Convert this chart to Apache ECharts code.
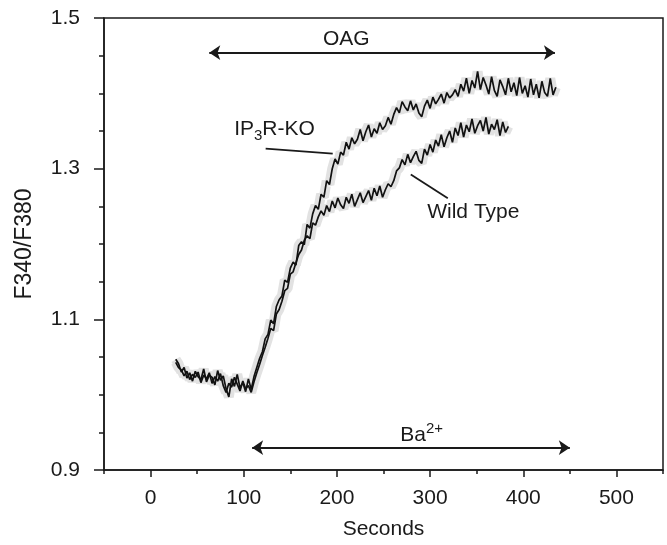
<!DOCTYPE html>
<html>
<head>
<meta charset="utf-8">
<script src="https://cdn.jsdelivr.net/npm/echarts@6/dist/echarts.min.js"></script>
<style>html,body{margin:0;padding:0;background:#fff}#c{width:667px;height:545px}</style>
</head>
<body>
<div id="c"></div>
<script>
// ---- data ----
const koTimes = [27,30,33,36,39,42,45,48,51,54,57,60,63,66,69,72,75,78,81,84,87,90,93,96,99,102,105,108,111,114,117,120,123,126,129,132,135,138,141,144,147,150,153,156,159,162,165,168,171,174,177,180,183,186,189,192,195,198,201,204,207,210,213,216,219,222,225,228,231,234,237,240,243,246,249,252,255,258,261,264,267,270,273,276,279,282,285,288,291,294,297,300,303,306,309,312,315,318,321,324,327,330,333,336,339,342,345,348,351,354,357,360,363,366,369,372,375,378,381,384,387,390,393,396,399,402,405,408,411,414,417,420,423,426,429,432,435];
const koValues = [1.047,1.041,1.030,1.036,1.022,1.029,1.018,1.031,1.024,1.020,1.034,1.017,1.026,1.023,1.013,1.032,1.019,1.025,1.008,0.997,1.021,1.011,1.027,1.009,1.016,1.004,1.021,1.007,1.024,1.036,1.048,1.057,1.074,1.080,1.099,1.094,1.117,1.126,1.131,1.152,1.149,1.168,1.176,1.172,1.198,1.203,1.199,1.226,1.221,1.240,1.251,1.246,1.266,1.262,1.284,1.279,1.300,1.313,1.306,1.322,1.318,1.335,1.326,1.341,1.333,1.339,1.352,1.337,1.349,1.358,1.342,1.353,1.347,1.361,1.352,1.357,1.368,1.359,1.372,1.381,1.374,1.389,1.382,1.377,1.390,1.378,1.386,1.374,1.369,1.383,1.391,1.380,1.395,1.386,1.392,1.399,1.387,1.401,1.394,1.398,1.405,1.396,1.412,1.403,1.420,1.400,1.417,1.407,1.429,1.405,1.421,1.411,1.399,1.422,1.404,1.396,1.418,1.409,1.398,1.420,1.402,1.414,1.397,1.421,1.400,1.410,1.395,1.419,1.398,1.412,1.394,1.416,1.401,1.396,1.420,1.398,1.408];
const wtTimes = [27,30,33,36,39,42,45,48,51,54,57,60,63,66,69,72,75,78,81,84,87,90,93,96,99,102,105,108,111,114,117,120,123,126,129,132,135,138,141,144,147,150,153,156,159,162,165,168,171,174,177,180,183,186,189,192,195,198,201,204,207,210,213,216,219,222,225,228,231,234,237,240,243,246,249,252,255,258,261,264,267,270,273,276,279,282,285,288,291,294,297,300,303,306,309,312,315,318,321,324,327,330,333,336,339,342,345,348,351,354,357,360,363,366,369,372,375,378,381,384];
const wtValues = [1.043,1.036,1.033,1.025,1.031,1.020,1.027,1.023,1.030,1.016,1.026,1.021,1.029,1.015,1.024,1.018,1.028,1.012,1.003,1.015,1.010,1.023,1.014,1.005,1.018,1.008,1.012,1.003,1.017,1.029,1.040,1.052,1.063,1.075,1.088,1.085,1.107,1.113,1.124,1.138,1.141,1.160,1.163,1.175,1.186,1.192,1.205,1.211,1.207,1.228,1.225,1.236,1.244,1.238,1.251,1.243,1.257,1.248,1.261,1.252,1.247,1.262,1.254,1.266,1.250,1.259,1.268,1.255,1.263,1.271,1.258,1.274,1.264,1.277,1.262,1.272,1.280,1.276,1.284,1.297,1.301,1.312,1.305,1.319,1.308,1.316,1.323,1.311,1.307,1.326,1.318,1.332,1.322,1.338,1.330,1.345,1.329,1.341,1.350,1.335,1.354,1.344,1.361,1.342,1.358,1.349,1.366,1.347,1.357,1.364,1.350,1.368,1.346,1.359,1.352,1.365,1.344,1.362,1.348,1.356];
const xTickLabels = [0,100,200,300,400,500];
const yTickLabels = [0.9,1.1,1.3,1.5];

const koData = koTimes.map((t,i)=>[t,koValues[i]]);
const wtData = wtTimes.map((t,i)=>[t,wtValues[i]]);

const FONT = "'Liberation Sans', Arial, Helvetica, sans-serif";
const INK = '#1a1a1a';

const chart = echarts.init(document.getElementById('c'), null, {renderer:'canvas'});

const annoLine = {color:INK, width:1.8, type:'solid'};
const markLine = {
  silent:true, animation:false,
  symbol:['arrow','arrow'], symbolSize:11,
  lineStyle:annoLine,
  label:{show:false},
  emphasis:{disabled:true},
  data:[
    [{coord:[63,1.454]},{coord:[434,1.454]}],
    [{coord:[109,0.9296]},{coord:[450,0.9296]}],
    [{coord:[123.5,1.3267],symbol:'none'},{coord:[195.5,1.320],symbol:'none'}],
    [{coord:[279.3,1.2923],symbol:'none'},{coord:[319,1.2606],symbol:'none'}]
  ]
};
const txt = {fontFamily:FONT, fontSize:21, color:INK};
const markPoint = {
  silent:true, animation:false,
  symbol:'rect', symbolSize:1,
  itemStyle:{color:'rgba(0,0,0,0)'},
  label:{show:true, position:'inside', fontFamily:FONT, fontSize:21, color:INK},
  data:[
    {coord:[210,1.472], label:{formatter:'OAG'}},
    {coord:[291,0.9485], label:{formatter:'{a|Ba}{s|2+}', rich:{a:Object.assign({lineHeight:24,verticalAlign:'bottom'},txt), s:{fontFamily:FONT,fontSize:15,color:INK,lineHeight:15,verticalAlign:'top'}}}},
    {coord:[133,1.3439], label:{formatter:'{a|IP}{b|3}{a|R-KO}', rich:{a:Object.assign({lineHeight:24,verticalAlign:'top'},txt), b:{fontFamily:FONT,fontSize:15,color:INK,lineHeight:34,verticalAlign:'middle'}}}},
    {coord:[346.4,1.242], label:{formatter:'Wild Type'}}
  ]
};

const axisLineStyle = {color:INK, width:1.5};
const option = {
  animation:false,
  backgroundColor:'#fff',
  grid:{left:104, right:4, top:18, bottom:73.3, show:true, borderColor:INK, borderWidth:1.5, backgroundColor:'transparent'},
  xAxis:[
    {type:'value', min:-50, max:550, interval:50,
     name:'Seconds', nameLocation:'middle', nameGap:49,
     nameTextStyle:{fontFamily:FONT, fontSize:21, color:INK},
     axisLine:{show:true, onZero:false, lineStyle:axisLineStyle},
     axisTick:{show:true, length:4, lineStyle:axisLineStyle},
     axisLabel:{customValues:xTickLabels, margin:18, fontFamily:FONT, fontSize:21, color:INK},
     splitLine:{show:false}},
    {type:'value', min:-50, max:550, position:'bottom',
     axisLine:{show:false, onZero:false},
     axisTick:{show:true, length:7, customValues:xTickLabels, lineStyle:axisLineStyle},
     axisLabel:{show:false},
     splitLine:{show:false}}
  ],
  yAxis:[
    {type:'value', min:0.9, max:1.5, interval:0.05,
     name:'F340/F380', nameLocation:'middle', nameGap:68, nameRotate:90,
     nameTextStyle:{fontFamily:FONT, fontSize:23, color:INK},
     axisLine:{show:true, onZero:false, lineStyle:axisLineStyle},
     axisTick:{show:true, length:5, lineStyle:axisLineStyle},
     axisLabel:{customValues:yTickLabels, margin:24, fontFamily:FONT, fontSize:21, color:INK, formatter:v=>v.toFixed(1)},
     splitLine:{show:false}},
    {type:'value', min:0.9, max:1.5, position:'left',
     axisLine:{show:false, onZero:false},
     axisTick:{show:true, length:10, customValues:yTickLabels, lineStyle:axisLineStyle},
     axisLabel:{show:false},
     splitLine:{show:false}}
  ],
  series:[
    {type:'line', data:koData, showSymbol:false, silent:true, z:1,
     lineStyle:{color:'#e2e2e2', width:10}},
    {type:'line', data:wtData, showSymbol:false, silent:true, z:1,
     lineStyle:{color:'#e2e2e2', width:10}},
    {type:'line', data:wtData, showSymbol:false, silent:true, z:3,
     lineStyle:{color:'#111', width:1.7}},
    {type:'line', data:koData, showSymbol:false, silent:true, z:3,
     lineStyle:{color:'#111', width:1.7},
     markLine:markLine, markPoint:markPoint}
  ]
};
chart.setOption(option);
</script>
</body>
</html>
